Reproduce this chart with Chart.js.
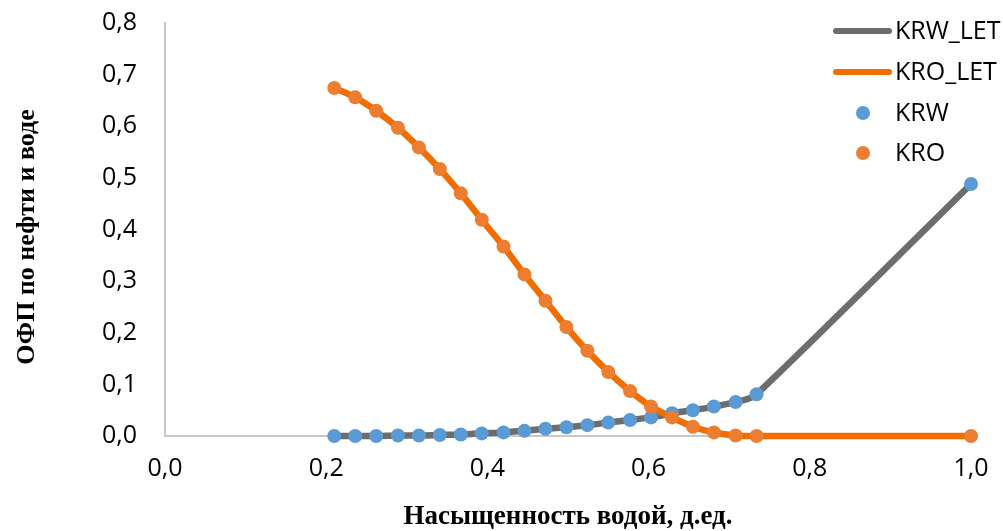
<!DOCTYPE html>
<html>
<head>
<meta charset="utf-8">
<script src="https://cdn.jsdelivr.net/npm/chart.js@4/dist/chart.umd.min.js"></script>
<style>
  html, body { margin: 0; padding: 0; background: #ffffff; }
  #wrap { width: 1003px; height: 531px; position: relative; }
</style>
</head>
<body>
<div id="wrap"><canvas id="chart" width="1003" height="531"></canvas></div>
<script>
// Water saturation, fraction
const sw = [0.210, 0.236, 0.262, 0.289, 0.315, 0.341, 0.367, 0.393, 0.420, 0.446, 0.472,
            0.498, 0.524, 0.550, 0.577, 0.603, 0.629, 0.655, 0.681, 0.708, 0.734, 1.000];
// Relative permeability to water
const krw = [0.000, 0.000, 0.000, 0.001, 0.001, 0.002, 0.003, 0.005, 0.007, 0.010, 0.014,
             0.017, 0.021, 0.026, 0.031, 0.036, 0.044, 0.050, 0.057, 0.066, 0.081, 0.488];
// Relative permeability to oil
const kro = [0.674, 0.656, 0.630, 0.597, 0.559, 0.517, 0.470, 0.419, 0.367, 0.313, 0.262,
             0.211, 0.165, 0.124, 0.087, 0.057, 0.036, 0.018, 0.007, 0.001, 0.000, 0.000];

const seriesNames = ['KRW_LET', 'KRO_LET', 'KRW', 'KRO'];
const yTicks = [0, 0.1, 0.2, 0.3, 0.4, 0.5, 0.6, 0.7, 0.8];
const xTicks = [0, 0.2, 0.4, 0.6, 0.8, 1.0];
const xTitle = 'Насыщенность водой, д.ед.';
const yTitle = 'ОФП по нефти и воде';

const pts = (xs, ys) => xs.map((x, i) => ({ x, y: ys[i] }));
const fmt = v => v.toFixed(1).replace('.', ',');

const TICK_FONT = { family: '"Open Sans", sans-serif', size: 25 };

// Smooth curves: neighbour-span tangents, control arms limited by segment length
const smoothCurves = {
  id: 'smoothCurves',
  beforeDatasetDraw(chart, args) {
    const ds = chart.data.datasets[args.index];
    if (!ds.smooth) return;
    const p = args.meta.data;
    for (let i = 0; i < p.length; i++) {
      const prev = p[i - 1] || p[i];
      const next = p[i + 1] || p[i];
      const vx = (next.x - prev.x) / 6, vy = (next.y - prev.y) / 6;
      const len = Math.hypot(vx, vy) || 1;
      const dPrev = Math.hypot(p[i].x - prev.x, p[i].y - prev.y);
      const dNext = Math.hypot(next.x - p[i].x, next.y - p[i].y);
      const k1 = Math.min(1, 0.4 * dPrev / len);
      const k2 = Math.min(1, 0.4 * dNext / len);
      p[i].cp1x = p[i].x - vx * k1; p[i].cp1y = p[i].y - vy * k1;
      p[i].cp2x = p[i].x + vx * k2; p[i].cp2y = p[i].y + vy * k2;
    }
    args.meta.dataset._pointsUpdated = true;
  }
};

// Axis titles and the legend in the upper right corner
const decorations = {
  id: 'decorations',
  afterDraw(chart) {
    const ctx = chart.ctx;
    const area = chart.chartArea;
    ctx.save();
    ctx.fillStyle = '#000000';
    ctx.textAlign = 'center';
    ctx.textBaseline = 'middle';
    ctx.font = 'bold 27px "Liberation Serif", "Times New Roman", serif';
    ctx.fillText(xTitle, (area.left + area.right) / 2, 517);
    ctx.font = 'bold 26px "Liberation Serif", "Times New Roman", serif';
    ctx.translate(27, 237);
    ctx.rotate(-Math.PI / 2);
    ctx.fillText(yTitle, 0, 0);
    ctx.restore();

    ctx.save();
    const rows = [31, 72, 113, 153];
    ctx.font = `${TICK_FONT.size}px ${TICK_FONT.family}`;
    ctx.textAlign = 'left';
    ctx.textBaseline = 'middle';
    chart.data.datasets.forEach((ds, i) => {
      const y = rows[i];
      if (ds.showLine === false) {
        ctx.beginPath();
        ctx.fillStyle = ds.pointBackgroundColor;
        ctx.arc(863, y, ds.pointRadius, 0, Math.PI * 2);
        ctx.fill();
      } else {
        ctx.beginPath();
        ctx.strokeStyle = ds.borderColor;
        ctx.lineWidth = 6;
        ctx.lineCap = 'round';
        ctx.moveTo(836, y);
        ctx.lineTo(889, y);
        ctx.stroke();
      }
      ctx.fillStyle = '#000000';
      ctx.fillText(ds.label, 895, y + 1);
    });
    ctx.restore();
  }
};

const lineStyle = (color) => ({
  showLine: true, smooth: true, tension: 0.3, borderColor: color, borderWidth: 6.5,
  borderCapStyle: 'round', borderJoinStyle: 'round', pointRadius: 0, pointHoverRadius: 0,
  fill: false, clip: false
});
const dotStyle = (color) => ({
  showLine: false, pointRadius: 7, pointHoverRadius: 7, pointBackgroundColor: color,
  pointBorderWidth: 0, borderColor: color, backgroundColor: color, clip: false
});

new Chart(document.getElementById('chart'), {
  type: 'line',
  data: {
    datasets: [
      Object.assign({ label: seriesNames[0], data: pts(sw, krw), order: 4 }, lineStyle('#6D6D6D')),
      Object.assign({ label: seriesNames[1], data: pts(sw, kro), order: 3 }, lineStyle('#F06E00')),
      Object.assign({ label: seriesNames[2], data: pts(sw, krw), order: 2 }, dotStyle('#5B9BD5')),
      Object.assign({ label: seriesNames[3], data: pts(sw, kro), order: 1 }, dotStyle('#ED7D31'))
    ]
  },
  options: {
    responsive: false,
    animation: false,
    events: [],
    layout: { padding: { top: 23, right: 32, left: 0, bottom: 0 } },
    plugins: { legend: { display: false }, tooltip: { enabled: false } },
    scales: {
      x: {
        type: 'linear', min: 0, max: 1,
        grid: { display: false, drawTicks: false },
        border: { display: true, color: '#C8C8C8', width: 2 },
        afterBuildTicks: s => { s.ticks = xTicks.map(v => ({ value: v })); },
        afterFit: s => { s.height = 95; s.paddingLeft = 0; s.paddingRight = 0; },
        ticks: { padding: 18, color: '#000000', font: TICK_FONT, callback: v => fmt(v), maxRotation: 0 }
      },
      y: {
        type: 'linear', min: 0, max: 0.8,
        grid: { display: false, drawTicks: false },
        border: { display: true, color: '#C8C8C8', width: 2 },
        afterBuildTicks: s => { s.ticks = yTicks.map(v => ({ value: v })); },
        afterFit: s => { s.width = 165; s.paddingTop = 0; s.paddingBottom = 0; },
        ticks: { padding: 28, color: '#000000', font: TICK_FONT, callback: v => fmt(v) }
      }
    }
  },
  plugins: [smoothCurves, decorations]
});
</script>
</body>
</html>
